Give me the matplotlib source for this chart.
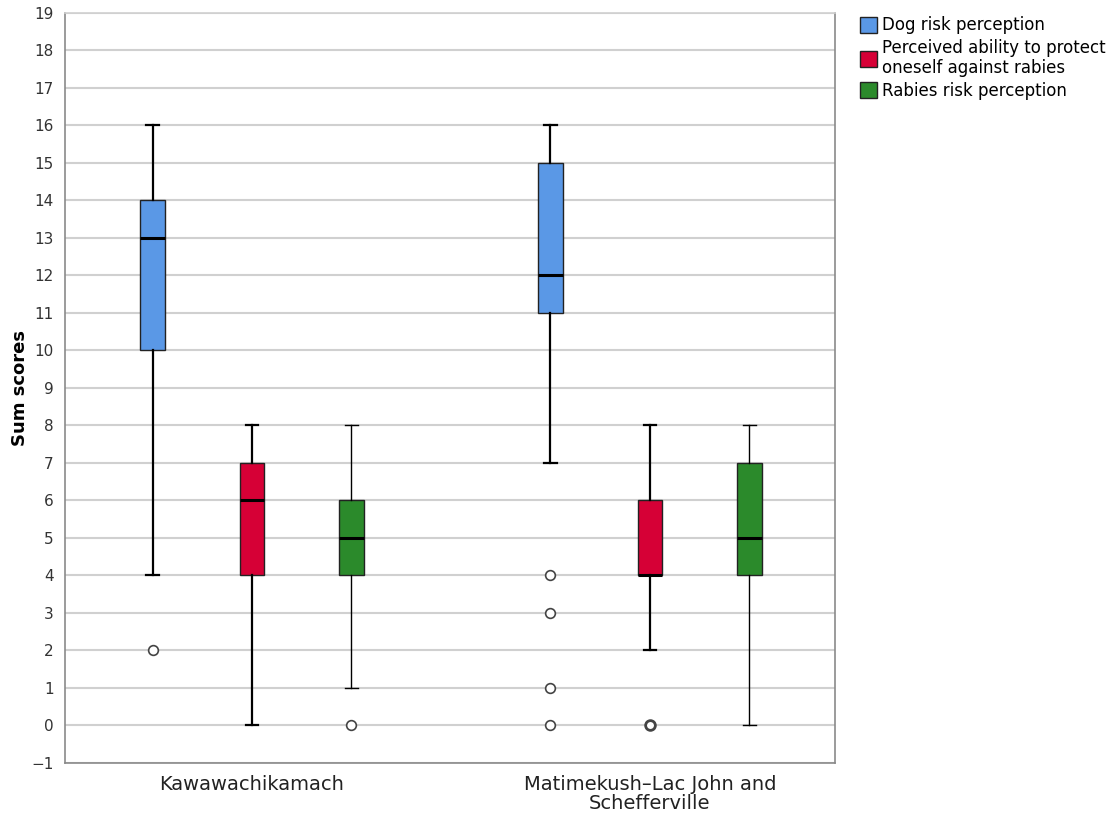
import matplotlib
matplotlib.use("Agg")
import matplotlib.pyplot as plt
from matplotlib.patches import Patch

# Box summaries (whisker low, q1, median, q3, whisker high)
groups = ["Kawawachikamach", "Matimekush\u2013Lac John and\nSchefferville"]
series = ["Dog risk perception",
          "Perceived ability to protect\noneself against rabies",
          "Rabies risk perception"]
colors = ["#5a98e6", "#d60036", "#2b8a2b"]

whislo = [[4, 0, 1], [7, 2, 0]]
q1 = [[10, 4, 4], [11, 4, 4]]
med = [[13, 6, 5], [12, 4, 5]]
q3 = [[14, 7, 6], [15, 6, 7]]
whishi = [[16, 8, 8], [16, 8, 8]]
fliers = [[[2], [], [0]], [[4, 3, 1, 0], [0], []]]

offsets = [-0.25, 0.0, 0.25]
box_w = 0.062

fig = plt.figure(figsize=(11.16, 8.17), dpi=100)
ax = fig.add_axes([0.0582, 0.0661, 0.6900, 0.9180])

for g in range(len(groups)):
    for s in range(len(series)):
        stats = [{
            "whislo": whislo[g][s], "q1": q1[g][s], "med": med[g][s],
            "q3": q3[g][s], "whishi": whishi[g][s], "fliers": fliers[g][s],
        }]
        lw = 1.0 if s == 2 else 1.6
        # repeated zero outliers look heavier in the original
        mew = 2.0 if (g == 1 and s == 1) else 1.2
        ax.bxp(stats, positions=[g + offsets[s]], widths=box_w,
               patch_artist=True, manage_ticks=False,
               boxprops=dict(facecolor=colors[s], edgecolor="#222222", linewidth=1.0),
               medianprops=dict(color="black", linewidth=2.2),
               whiskerprops=dict(color="black", linewidth=lw),
               capprops=dict(color="black", linewidth=lw),
               capwidths=box_w / 2,
               flierprops=dict(marker="o", markerfacecolor="white",
                               markeredgecolor="#444444", markersize=7,
                               markeredgewidth=mew),
               zorder=3)

ax.set_xlim(-0.47, 1.465)
ax.set_ylim(-1, 19)
ax.set_yticks(range(-1, 20))
ax.set_xticks(range(len(groups)))
ax.set_xticklabels(groups, fontsize=14, color="#222222", linespacing=0.95)
ax.tick_params(axis="y", length=0, pad=8, labelsize=11, labelcolor="#333333")
ax.tick_params(axis="x", length=0, pad=9)
ax.yaxis.grid(True, color="#d0d0d0", linewidth=1.5, zorder=0)
ax.set_axisbelow(True)
for sp in ax.spines.values():
    sp.set_color("#8a8a8a")
    sp.set_linewidth(1.2)
ax.spines["top"].set_color("#d0d0d0")
ax.set_ylabel("Sum scores", fontsize=13, fontweight="bold", labelpad=2)

handles = [Patch(facecolor=c, edgecolor="#222222", linewidth=1.0) for c in colors]
fig.legend(handles, series, loc="upper left", bbox_to_anchor=(0.765, 0.988),
           frameon=False, fontsize=12, handlelength=1.0, handleheight=1.1,
           handletextpad=0.3, labelspacing=0.25, borderaxespad=0)

fig.savefig("out.png", dpi=100)
